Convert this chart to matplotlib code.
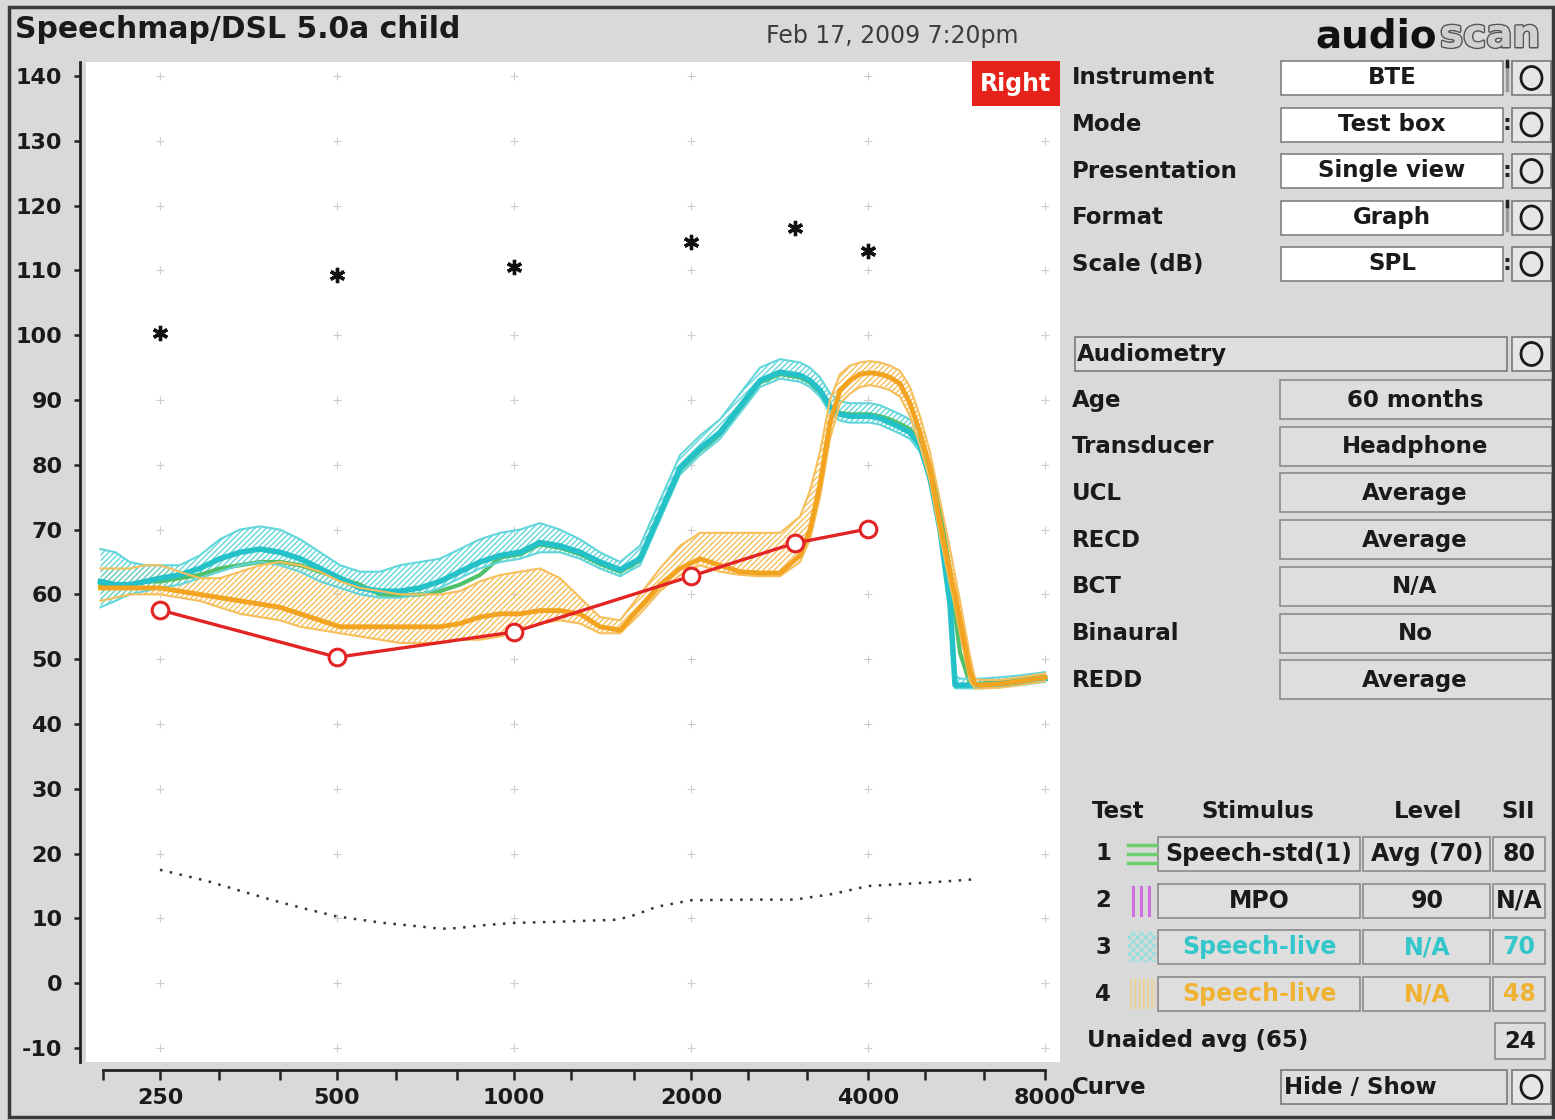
import matplotlib
matplotlib.use("Agg")
import matplotlib.pyplot as plt
import numpy as np
from matplotlib.lines import Line2D
from matplotlib.patches import Ellipse, Rectangle
from matplotlib.ticker import FixedFormatter, FixedLocator, NullFormatter
import matplotlib.patheffects as pe

W, H = 1555, 1120
BG = "#d9d9d9"
CYAN = "#24c2c8"
CYAN_EDGE = "#62d6da"
ORANGE = "#f2a31f"
ORANGE_EDGE = "#f6bf5c"
GREEN = "#52c06a"
RED = "#e32424"

# frequency axis
octave_ticks = [250, 500, 1000, 2000, 4000, 8000]
octave_labels = ["250", "500", "1000", "2000", "4000", "8000"]
third_octave_ticks = [200, 315, 400, 630, 800, 1250, 1600, 2500, 3150, 5000, 6300]
level_ticks = list(range(-10, 141, 10))

# audiometric thresholds (red) and UCL (asterisks), dB SPL
thr_freq = [250, 500, 1000, 2000, 3000, 4000]
thr_db = [57.6, 50.3, 54.2, 62.8, 67.9, 70.1]
ucl_freq = [250, 500, 1000, 2000, 3000, 4000]
ucl_db = [100.3, 109.3, 110.5, 114.4, 116.5, 113.0]

# normal hearing threshold (dotted)
norm_freq = [250, 300, 350, 400, 450, 500, 600, 700, 750, 800, 900, 1000,
             1200, 1500, 1600, 1750, 2000, 2500, 3000, 3500, 4000, 5000, 6000]
norm_db = [17.5, 15.8, 14.0, 12.5, 11.3, 10.3, 9.3, 8.7, 8.4, 8.5, 9.0, 9.3,
           9.5, 9.8, 10.5, 11.8, 12.8, 12.9, 12.9, 13.8, 15.0, 15.5, 16.0]

# measured speech curves
live_freq = [198, 210, 222, 236, 250, 270, 292, 316, 342, 370, 400, 433, 468, 506,
             547, 592, 640, 692, 748, 809, 875, 947, 1024, 1107, 1197, 1295, 1400,
             1515, 1638, 1771, 1916, 2072, 2240, 2423, 2621, 2834, 3065, 3187, 3315,
             3447, 3585, 3728, 3877, 4031, 4192, 4360, 4534, 4715, 4903, 5099, 5303,
             5515, 5625, 5735, 5964, 6082, 6202, 6707, 7254, 8000]

# test 3 - speech live (cyan)
cyan_hi = [67, 66.5, 65, 64.5, 64.5, 64.5, 66, 68.5, 70, 70.5, 70, 68.5, 66.5, 64.5,
           63.5, 63.5, 64.5, 65, 65.5, 67, 68.5, 69.5, 70, 71, 70, 68.5, 66.5,
           65, 67.5, 74.5, 81.5, 84.5, 87, 91, 95, 96.3, 95.8, 95, 93.5,
           91, 89.8, 89.5, 89.5, 89.5, 89.2, 88.5, 87.8, 87, 85, 80, 72,
           60.5, 47.5, 47, 47, 47, 47, 47.2, 47.5, 48]
cyan_mid = [62, 61.5, 61.5, 62, 62.5, 63, 64, 65.5, 66.5, 67, 66.5, 65.5, 64, 62.5,
            61, 60.5, 60.5, 61, 62, 63.5, 65, 66, 66.5, 68, 67.5, 66.5, 65,
            63.8, 65.5, 72.5, 79.5, 82.5, 85, 89, 93, 94.3, 93.8, 93, 91.5,
            89, 87.8, 87.5, 87.5, 87.5, 87.2, 86.5, 85.8, 85, 83, 78, 70,
            58.5, 46, 46, 46, 46, 46, 46.2, 46.5, 47]
cyan_lo = [58, 59, 60, 60.5, 61, 61.5, 62.5, 63.5, 64.5, 65, 64.5, 63.5, 62, 61,
           60, 59.5, 59.5, 60, 61, 62.5, 64, 65, 65.5, 66.5, 66.5, 65.5, 64,
           62.8, 64.5, 71.5, 78.5, 81.5, 84, 88, 92, 93.3, 92.8, 92, 90.5,
           88, 86.8, 86.5, 86.5, 86.5, 86.2, 85.5, 84.8, 84, 82, 77, 69,
           57.5, 45.5, 45.5, 45.5, 45.5, 45.5, 45.7, 46, 46.5]

# test 1 - speech std (green)
green_mid = [61.5, 61.5, 61.5, 62, 62, 62.5, 63, 64, 64.5, 65, 65, 64.5, 63.5, 62.5,
             61.5, 60, 59.8, 60, 60.5, 61.5, 63, 65.7, 66.2, 67.7, 67.2, 66.2, 64.7,
             63.5, 65.2, 72.2, 79.2, 82.2, 84.7, 88.7, 92.7, 94, 93.5, 92.7, 91.2,
             88.8, 88, 87.8, 87.8, 87.8, 87.5, 87, 86.3, 85.5, 83.8, 79.5, 73,
             63.5, 57, 51, 46.2, 46.2, 46.2, 46.5, 46.8, 47.3]

# test 4 - speech live (orange)
orange_hi = [64, 64, 64, 64.5, 64.5, 63.5, 62.5, 62.5, 63.5, 64.5, 65, 64.5, 63.5, 62,
             61, 60.5, 60, 60, 60, 60.5, 62, 63, 63.5, 64, 62.5, 59.5, 56.5,
             56, 60, 64, 67.5, 69.5, 69.5, 69.5, 69.5, 69.5, 72, 76, 82,
             90, 94, 95.3, 95.8, 96, 95.8, 95.3, 94.5, 92, 87.5, 82, 74.5,
             67, 63, 59, 50.5, 47, 46.8, 46.8, 47.2, 47.8]
orange_mid = [61, 61, 61, 61, 61, 60.5, 60, 59.5, 59, 58.5, 58, 57, 56, 55,
              55, 55, 55, 55, 55, 55.5, 56.5, 57, 57, 57.5, 57.5, 57, 55,
              54.5, 58, 61.5, 64, 65.5, 64.5, 63.5, 63.3, 63.3, 66, 70, 77,
              86.5, 91.5, 93, 94, 94.2, 94, 93.5, 92.5, 89.5, 85, 79.5, 71,
              63.5, 60, 56, 48, 46.2, 46, 46.2, 46.6, 47.2]
orange_lo = [59, 59.5, 60, 60, 60, 59.5, 59, 58, 57, 56.5, 56, 55, 54.5, 54,
             53.5, 53, 52.5, 52.5, 52.5, 53, 53, 53.5, 54.5, 55.5, 56, 55.5, 54,
             54, 57, 60.5, 63, 64.5, 63.5, 63, 62.8, 62.8, 65, 68.5, 75,
             84, 89.5, 91, 92, 92.3, 92, 91.5, 90.5, 87.5, 83, 77.5, 69,
             61.5, 58, 54, 46.5, 45.5, 45.5, 45.6, 46, 46.6]

# side panel contents
setup_labels = ["Instrument", "Mode", "Presentation", "Format", "Scale (dB)"]
setup_values = ["BTE", "Test box", "Single view", "Graph", "SPL"]
setup_marks = ["|", ":", ":", "|", ":"]
audio_labels = ["Age", "Transducer", "UCL", "RECD", "BCT", "Binaural", "REDD"]
audio_values = ["60 months", "Headphone", "Average", "Average", "N/A", "No", "Average"]
test_ids = ["1", "2", "3", "4"]
test_stimulus = ["Speech-std(1)", "MPO", "Speech-live", "Speech-live"]
test_level = ["Avg (70)", "90", "N/A", "N/A"]
test_sii = ["80", "N/A", "70", "48"]
test_colors = ["#1a1a1a", "#1a1a1a", "#33c6cb", "#f0b232"]

plt.rcParams["hatch.linewidth"] = 1.0
plt.rcParams["axes.unicode_minus"] = False


def fx(x):
    return x / W


def fy(y):
    return 1 - y / H


fig = plt.figure(figsize=(W / 100, H / 100), dpi=100, facecolor=BG)


def box(x0, y0, x1, y1, face, edge="#8a8a8a", lw=1.2, **kw):
    r = Rectangle((fx(x0), fy(y1)), fx(x1) - fx(x0), fy(y0) - fy(y1),
                  transform=fig.transFigure, facecolor=face, edgecolor=edge,
                  linewidth=lw, **kw)
    fig.add_artist(r)
    return r


def label(x, y, s, size=16.5, ha="left", color="#1a1a1a", weight="bold", **kw):
    return fig.text(fx(x), fy(y), s, ha=ha, va="center", fontsize=size,
                    color=color, fontweight=weight, **kw)


def button(y, x0=1512, x1=1551):
    box(x0, y - 17, x1, y + 17, "#e6e6e6", edge="#7a7a7a")
    fig.add_artist(Ellipse((fx((x0 + x1) / 2), fy(y)), 21 / W, 23 / H,
                           transform=fig.transFigure, facecolor="none",
                           edgecolor="#1a1a1a", linewidth=2))


def hline(x0, x1, y, color, lw):
    fig.add_artist(Line2D([fx(x0), fx(x1)], [fy(y), fy(y)], transform=fig.transFigure,
                          color=color, linewidth=lw))


def vline(x, y0, y1, color, lw):
    fig.add_artist(Line2D([fx(x), fx(x)], [fy(y0), fy(y1)], transform=fig.transFigure,
                          color=color, linewidth=lw))


# --- graph ---
ax = fig.add_axes([fx(86), fy(1062), fx(1060) - fx(86), fy(62) - fy(1062)])
ax.set_facecolor("white")
ax.set_xscale("log")
ax.set_xlim(187.1, 8484)
ax.set_ylim(-12.16, 142.16)

gx, gy = np.meshgrid(octave_ticks, level_ticks)
ax.scatter(gx.ravel(), gy.ravel(), marker="+", s=30, color="#cdcdcd",
           linewidths=0.8, zorder=1)

ax.fill_between(live_freq, orange_lo, orange_hi, facecolor="none",
                edgecolor=ORANGE_EDGE, hatch="//////", linewidth=0, zorder=2)
ax.fill_between(live_freq, cyan_lo, cyan_hi, facecolor="none",
                edgecolor=CYAN_EDGE, hatch="//////", linewidth=0, zorder=2)

ax.plot(live_freq, green_mid, color=GREEN, lw=3, zorder=3)
for edge in (cyan_hi, cyan_lo):
    ax.plot(live_freq, edge, color=CYAN_EDGE, lw=1.5, zorder=4)
ax.plot(live_freq, cyan_mid, color=CYAN, lw=4, zorder=4)
for edge in (orange_hi, orange_lo):
    ax.plot(live_freq, edge, color=ORANGE_EDGE, lw=1.5, zorder=5)
ax.plot(live_freq, orange_mid, color=ORANGE, lw=3.5, zorder=5)

ax.plot(norm_freq, norm_db, color="#333333", lw=1.8, ls=(0, (1, 3)), zorder=6)
ax.plot(thr_freq, thr_db, color=RED, lw=2.4, marker="o", ms=12, mfc="white",
        mec=RED, mew=2.2, zorder=7)
ax.plot(ucl_freq, ucl_db, ls="none", marker=(6, 2, 0), ms=11, mew=2.4,
        color="#111111", zorder=7)

for s in ("top", "right"):
    ax.spines[s].set_visible(False)
ax.spines["left"].set_position(("outward", 4.5))
ax.spines["bottom"].set_position(("outward", 6))
ax.spines["bottom"].set_bounds(200, 8000)
ax.spines["left"].set_bounds(-12.16, 142.16)
for s in ("left", "bottom"):
    ax.spines[s].set_linewidth(2)
    ax.spines[s].set_color("#222222")

ax.xaxis.set_major_locator(FixedLocator(octave_ticks))
ax.xaxis.set_major_formatter(FixedFormatter(octave_labels))
ax.xaxis.set_minor_locator(FixedLocator(third_octave_ticks))
ax.xaxis.set_minor_formatter(NullFormatter())
ax.set_yticks(level_ticks)
ax.tick_params(axis="x", which="both", direction="out", length=7, width=1.8,
               color="#222222", pad=6, labelsize=16)
ax.tick_params(axis="y", direction="out", length=4.5, width=1.8,
               color="#222222", pad=8, labelsize=16)
for lab in ax.get_xticklabels() + ax.get_yticklabels():
    lab.set_fontweight("bold")
    lab.set_color("#1a1a1a")

# --- header ---
label(15, 29, "Speechmap/DSL 5.0a child", size=21.5)
label(892, 36, "Feb 17, 2009 7:20pm", size=17, ha="center", color="#3c3c3c",
      weight="normal")
fig.text(fx(1315), fy(47), "audio", fontsize=28, fontweight="bold", color="#111111",
         ha="left", va="baseline")
fig.text(fx(1440), fy(47), "scan", fontsize=28, fontweight="bold", color="#d0d0d0",
         ha="left", va="baseline",
         path_effects=[pe.withStroke(linewidth=2.2, foreground="#555555"),
                       pe.Normal()])

box(972, 61, 1060, 106, "#e5231b", edge="none")
label(1016, 84, "Right", size=17, ha="center", color="white")

# --- setup controls ---
for i, (name, value, mark) in enumerate(zip(setup_labels, setup_values, setup_marks)):
    y = 78 + i * 46.5
    label(1072, y, name)
    box(1281, y - 17, 1503, y + 17, "white", edge="#808080")
    label(1392, y, value, ha="center")
    if mark == ":":
        label(1507, y, ":", size=16, ha="center", color="#222222")
    else:
        vline(1507, y - 15, y + 12, "#9a9a9a", 2.5)
        vline(1507, y - 17, y - 12, "#222222", 2.5)
    button(y)

box(1075, 337, 1507, 371, "#dedede", edge="#7a7a7a")
label(1077, 354, "Audiometry")
button(354)

for i, (name, value) in enumerate(zip(audio_labels, audio_values)):
    y = 400 + i * 46.7
    label(1072, y, name)
    box(1280, y - 20, 1552, y + 19, "#dedede", edge="#8a8a8a")
    label(1415, y, value, ha="center")

# --- test table ---
label(1118, 811, "Test", ha="center")
label(1258, 811, "Stimulus", ha="center")
label(1428, 811, "Level", ha="center")
label(1518, 811, "SII", ha="center")

for i in range(4):
    y = 854 + i * 46.7
    label(1103, y, test_ids[i], ha="center")
    if i == 0:
        for dy in (-9, 0, 9):
            hline(1128, 1156, y + dy, "#6ccf6c", 2.5)
    elif i == 1:
        for x in (1133, 1141, 1149):
            vline(x, y - 14, y + 14, "#cc6fe0", 2.2)
    elif i == 2:
        box(1128, y - 15, 1156, y + 15, "none", edge="#8fe0e0", lw=0, hatch="xxxx")
    else:
        box(1128, y - 15, 1156, y + 15, "none", edge="#f3cf7f", lw=0, hatch="||||")
    box(1158, y - 17, 1360, y + 17, "#dedede")
    box(1363, y - 17, 1490, y + 17, "#dedede")
    box(1493, y - 17, 1545, y + 17, "#dedede")
    label(1259, y, test_stimulus[i], ha="center", color=test_colors[i], size=17)
    label(1427, y, test_level[i], ha="center", color=test_colors[i], size=17)
    label(1519, y, test_sii[i], ha="center", color=test_colors[i], size=17)

label(1087, 1041, "Unaided avg (65)")
box(1495, 1023, 1545, 1059, "#dedede")
label(1520, 1041, "24", ha="center")

label(1072, 1087, "Curve")
box(1281, 1070, 1507, 1104, "#dedede", edge="#7a7a7a")
label(1284, 1087, "Hide / Show")
button(1087)

# outer frame
box(9, 7, 1553, 1117, "none", edge="#3a3a3a", lw=2.5)

fig.savefig("out.png", dpi=100, facecolor=BG)
